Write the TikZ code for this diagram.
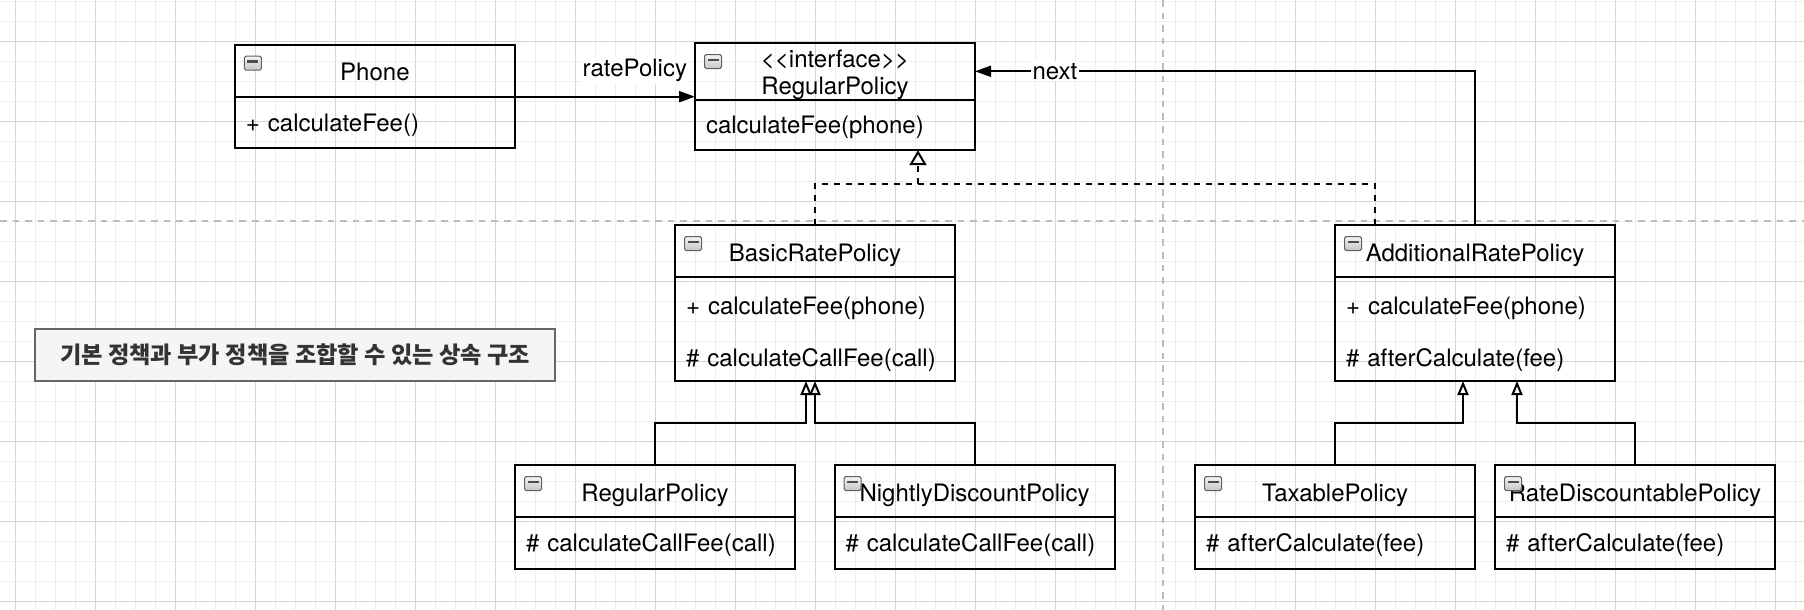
\documentclass[tikz,border=0pt]{standalone}
\usepackage{fontspec}
\setmainfont{TeX Gyre Heros}
\newfontfamily\kofont{Noto Sans CJK KR}
\usepackage{tikz}
\usetikzlibrary{arrows.meta, positioning}

\definecolor{gridlo}{HTML}{EEEEEE}
\definecolor{gridhi}{HTML}{D5D5D5}
\definecolor{breakgray}{HTML}{BDBDBD}
\definecolor{notefill}{HTML}{F5F5F5}
\definecolor{noteline}{HTML}{666666}
\definecolor{notetext}{HTML}{333333}

\begin{document}
\begin{tikzpicture}[
  x=0.5pt, y=-0.5pt,
  font=\fontsize{12}{14}\selectfont,
  minorline/.style={draw=gridlo, line width=0.5pt},
  majorline/.style={draw=gridhi, line width=0.5pt},
  pageline/.style={draw=breakgray, line width=0.6pt, dash pattern=on 3.3pt off 3pt},
  header/.style={
    rectangle, draw, line width=1pt, outer sep=0pt,
    minimum width=140pt, minimum height=26pt, text height=10pt, text depth=0pt
  },
  members/.style={
    rectangle, draw, line width=1pt, outer sep=0pt,
    text width=129pt, inner xsep=5.5pt, minimum height=25.8pt, align=left, text depth=0pt
  },
  twolines/.style={minimum height=52pt, text height=9.1pt, text depth=23.9pt},
  iconbox/.style={draw=gray!75!black, line width=0.5pt, top color=gray!8, bottom color=gray!45, rounded corners=0.8pt},
  note/.style={
    rectangle, draw=noteline, fill=notefill, text=notetext, line width=1pt,
    minimum width=260pt, minimum height=26pt,
    font=\kofont\bfseries\fontsize{11.6}{13}\selectfont
  },
  assoc/.style={draw, line width=1pt, -{Triangle[length=8pt,width=5.5pt]}},
  realize/.style={draw, line width=1pt, dashed},
  inherit/.style={draw, line width=1pt, -{Triangle[open,length=7pt,width=5.5pt]}},
  edgelabel/.style={fill=white, inner sep=1pt}
]
  \useasboundingbox (0,0) rectangle (1804,610);
  \fill[white] (0,0) rectangle (1804,610);

  % canvas grid
  \foreach \gx in {-5,15,...,1805} \path[minorline] (\gx,0) -- (\gx,610);
  \foreach \gy in {1.7,21.7,...,611} \path[minorline] (0,\gy) -- (1804,\gy);
  \foreach \gx in {15,95,...,1805} \path[majorline] (\gx,0) -- (\gx,610);
  \foreach \gy in {41.7,121.7,...,611} \path[majorline] (0,\gy) -- (1804,\gy);
  \path[pageline] (1163,0) -- (1163,610);
  \path[pageline] (0,221) -- (1804,221);

  % classes
  \node[header] (phoneH) at (374.9,70.7) {Phone};
  \node[members, below=0pt of phoneH] (phoneB) {+ calculateFee()};

  \node[members, align=center, minimum height=28pt, text height=9pt, text depth=12.6pt,
        font=\fontsize{12}{13.5}\selectfont] (ifaceH) at (835,71.3)
    {<\kern0pt<interface>\kern0pt>\\RegularPolicy};
  \node[members, below=0pt of ifaceH, minimum height=25.3pt] (ifaceB) {calculateFee(phone)};

  \node[header] (basicH) at (815,251) {BasicRatePolicy};
  \node[members, twolines, below=0pt of basicH] (basicB)
    {+ calculateFee(phone)\\[12pt]\# calculateCallFee(call)};

  \node[header] (addlH) at (1475,251) {AdditionalRatePolicy};
  \node[members, twolines, below=0pt of addlH] (addlB)
    {+ calculateFee(phone)\\[12pt]\# afterCalculate(fee)};

  \node[header] (regH) at (655,491) {RegularPolicy};
  \node[members, below=0pt of regH] (regB) {\# calculateCallFee(call)};
  \node[header, right=19.75pt of regH] (nightH) {NightlyDiscountPolicy};
  \node[members, below=0pt of nightH] (nightB) {\# calculateCallFee(call)};

  \node[header] (taxH) at (1335,491) {TaxablePolicy};
  \node[members, below=0pt of taxH] (taxB) {\# afterCalculate(fee)};
  \node[header, right=10pt of taxH] (rdH) {RateDiscountablePolicy};
  \node[members, below=0pt of rdH] (rdB) {\# afterCalculate(fee)};

  % collapse icons
  \foreach \cls in {phoneH,ifaceH,basicH,addlH,regH,nightH,taxH,rdH} {
    \path[iconbox] ([shift={(9.5,11.5)}]\cls.north west) rectangle ++(17,14);
    \fill[black!70] ([shift={(12.5,15.5)}]\cls.north west) rectangle ++(11,2.6);
  }

  \node[note] (caption) at (295,355) {기본 정책과 부가 정책을 조합할 수 있는 상속 구조};

  % relations
  \path[assoc] (phoneH.south east) -- (phoneH.south east -| ifaceH.west)
    node[edgelabel, pos=1, anchor=base east, xshift=-2.5pt, yshift=10pt] {ratePolicy};
  \path[assoc] (addlH.north) |- (ifaceH.east) node[edgelabel, pos=0.92] {next};

  \coordinate (implJoin) at (918,184);
  \path[realize] (basicH.north) |- (implJoin);
  \path[realize] ([xshift=-50pt]addlH.north) |- (implJoin);
  \path[realize, -{Triangle[open,length=7.5pt,width=8.5pt]}] (implJoin) -- (implJoin |- ifaceB.south);

  \path[inherit] (regH.north) -- ++(0,-42.3) -| ([xshift=-4.5pt]basicB.south);
  \path[inherit] (nightH.north) -- ++(0,-42.3) -| (basicB.south);
  \path[inherit] (taxH.north) -- ++(0,-42.3) -| ([xshift=-6pt]addlB.south);
  \path[inherit] (rdH.north) -- ++(0,-42.3) -| ([xshift=21pt]addlB.south);
\end{tikzpicture}
\end{document}
